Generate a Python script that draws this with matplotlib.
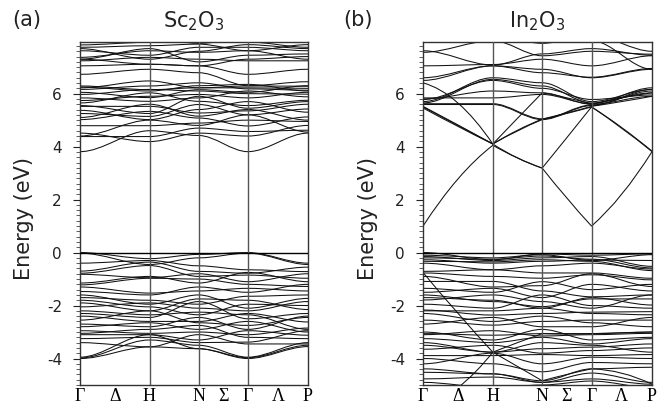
import numpy as np
import matplotlib
matplotlib.use("Agg")
import matplotlib.pyplot as plt
from matplotlib.path import Path
from matplotlib.patches import PathPatch
from matplotlib.ticker import MultipleLocator

# ---------------- data ----------------
kpoint_labels = ["Γ", "Δ", "H", "N", "Σ", "Γ", "Λ", "P"]
kpath_nodes = [0.0, 1.0, 1.7071, 2.4142, 3.2802]  # Γ, H, N, Γ, P

panel_letters = ["(a)", "(b)"]
panel_titles = ["Sc$_2$O$_3$", "In$_2$O$_3$"]

# Sc2O3 conduction bands: energies (eV) at Γ, H, N, Γ, P
sc_cb = [
    [3.81, 4.60, 4.42, 3.81, 4.51],
    [4.38, 4.38, 4.70, 4.57, 4.62],
    [4.51, 4.19, 4.51, 4.40, 4.80],
    [4.40, 5.00, 4.80, 5.20, 4.55],
    [4.79, 4.79, 4.89, 5.00, 4.95],
    [5.02, 5.33, 5.08, 4.78, 5.12],
    [5.10, 5.60, 5.15, 5.40, 5.00],
    [5.25, 5.14, 5.59, 5.20, 5.42],
    [5.37, 5.02, 5.40, 5.70, 5.30],
    [5.52, 5.52, 5.27, 5.35, 5.60],
    [5.55, 5.25, 5.90, 5.45, 5.70],
    [5.65, 6.03, 5.71, 5.55, 5.75],
    [5.74, 5.90, 5.97, 5.84, 6.05],
    [5.84, 5.71, 5.84, 6.10, 5.88],
    [5.97, 6.16, 6.10, 6.00, 5.98],
    [6.05, 5.85, 6.15, 6.05, 6.30],
    [6.16, 6.29, 6.41, 6.18, 6.13],
    [6.22, 6.48, 6.22, 6.22, 6.20],
    [6.25, 6.10, 6.30, 6.35, 6.10],
    [6.29, 6.15, 6.22, 6.29, 6.28],
    [6.73, 6.92, 6.79, 6.30, 6.45],
    [7.05, 7.11, 7.05, 6.73, 6.92],
    [7.24, 7.37, 7.30, 7.24, 7.24],
    [7.30, 7.11, 7.05, 7.30, 7.40],
    [7.30, 7.70, 7.20, 7.45, 7.50],
    [7.37, 7.62, 7.56, 7.62, 7.30],
    [7.62, 7.45, 7.75, 7.75, 7.62],
    [7.70, 7.30, 7.60, 7.85, 7.70],
    [7.75, 7.81, 7.87, 7.62, 7.85],
    [7.84, 7.94, 8.00, 7.95, 7.75],
    [7.97, 8.10, 7.90, 8.05, 8.00],
]
# Sc2O3 valence bands: energies (eV) at Γ, H, N, Γ, P
sc_vb = [
    [0.00, -0.23, -0.07, 0.00, -0.40],
    [-0.02, -0.45, -0.20, -0.02, -0.45],
    [-0.40, -0.30, -0.50, -0.65, -0.72],
    [-0.70, -0.36, -0.71, -0.78, -0.55],
    [-0.78, -0.49, -0.90, -0.85, -0.97],
    [-0.82, -0.95, -0.80, -1.10, -0.80],
    [-1.15, -0.90, -1.15, -0.75, -1.10],
    [-1.22, -0.97, -1.00, -1.20, -1.28],
    [-1.30, -1.53, -1.45, -1.35, -1.45],
    [-1.47, -1.60, -1.30, -1.50, -1.20],
    [-1.60, -1.95, -1.60, -2.10, -1.73],
    [-1.70, -1.80, -1.95, -1.65, -1.60],
    [-1.80, -2.05, -2.35, -1.95, -2.00],
    [-1.90, -2.20, -1.75, -1.80, -2.15],
    [-2.05, -1.90, -2.10, -2.20, -1.85],
    [-2.20, -2.35, -2.25, -2.35, -2.90],
    [-2.30, -2.45, -1.85, -2.50, -2.30],
    [-2.40, -2.60, -2.60, -2.30, -2.62],
    [-2.55, -2.20, -2.65, -2.75, -2.45],
    [-2.70, -2.80, -2.45, -2.90, -2.40],
    [-2.80, -2.65, -2.90, -2.60, -3.00],
    [-2.95, -3.05, -3.00, -3.10, -2.85],
    [-3.05, -2.90, -2.75, -3.20, -3.25],
    [-3.10, -3.10, -3.30, -2.95, -3.12],
    [-3.25, -3.20, -3.40, -3.38, -2.95],
    [-3.40, -3.56, -3.10, -3.45, -3.45],
    [-3.95, -3.10, -3.63, -3.97, -3.50],
    [-4.00, -3.56, -3.63, -4.00, -3.55],
    [-3.98, -3.30, -3.50, -3.95, -3.40],
]

# In2O3 strongly dispersive bands: Γ, Δ, H, (H-N), N, Σ, Γ, Λ, P
in_disp = [
    [1.00, 2.78, 4.05, 3.57, 3.19, 2.05, 1.00, 2.20, 3.81],
    [5.46, 4.76, 4.10, 3.57, 3.19, 4.34, 5.50, 4.70, 3.81],
    [5.50, 4.80, 4.10, 4.60, 5.02, 5.25, 5.50, 4.72, 3.83],
    [5.52, 4.82, 4.10, 4.62, 5.04, 5.27, 5.52, 5.70, 5.90],
    [6.41, 5.65, 4.10, 5.07, 6.03, 5.85, 5.60, 5.85, 6.03],
    [-0.75, -2.30, -3.76, -4.30, -4.84, -4.60, -4.39, -4.55, -4.97],
    [-5.80, -5.10, -3.76, -3.40, -3.06, -3.08, -3.06, -3.03, -3.00],
]
# In2O3 conduction bands: Γ, H, N, Γ, P
in_cb = [
    [5.59, 5.59, 5.02, 5.55, 6.16],
    [5.62, 5.62, 5.05, 5.57, 6.10],
    [5.84, 5.84, 5.97, 5.62, 6.22],
    [5.65, 6.54, 6.29, 5.65, 6.03],
    [5.70, 6.60, 6.41, 5.70, 6.16],
    [5.78, 6.50, 6.20, 5.78, 5.95],
    [5.80, 6.10, 6.03, 5.60, 5.90],
    [6.50, 7.05, 6.92, 6.60, 6.92],
    [6.60, 7.05, 6.79, 6.62, 6.95],
    [7.05, 7.10, 7.30, 7.05, 7.43],
    [7.56, 8.00, 7.43, 7.60, 7.49],
    [7.62, 7.08, 7.50, 7.70, 7.45],
    [8.00, 8.05, 7.94, 8.00, 6.92],
    [8.10, 8.20, 7.90, 8.20, 7.60],
]
# In2O3 valence bands: Γ, H, N, Γ, P
in_vb = [
    [0.00, -0.27, -0.05, -0.10, -0.05],
    [-0.10, -0.20, -0.08, -0.30, -0.08],
    [-0.15, -0.30, -0.20, -0.15, -0.52],
    [-0.20, -0.25, -0.13, -0.25, -0.58],
    [-0.27, -0.40, -0.33, -0.28, -0.30],
    [-0.33, -0.35, -0.27, -0.33, -0.68],
    [-0.40, -0.65, -0.50, -0.40, -0.62],
    [-0.71, -0.65, -0.77, -0.77, -0.97],
    [-0.77, -0.90, -0.97, -0.84, -1.03],
    [-0.90, -1.30, -1.25, -0.80, -1.28],
    [-1.09, -1.09, -1.45, -1.67, -1.60],
    [-1.35, -1.50, -1.10, -1.40, -1.20],
    [-1.50, -1.35, -1.70, -1.20, -1.45],
    [-1.60, -1.85, -2.04, -1.75, -1.75],
    [-1.70, -1.80, -2.10, -1.70, -1.98],
    [-1.79, -1.60, -1.85, -2.10, -1.60],
    [-1.95, -2.10, -1.60, -2.00, -2.10],
    [-2.17, -2.36, -2.30, -2.25, -2.23],
    [-2.20, -2.20, -2.10, -2.30, -2.35],
    [-2.30, -2.60, -2.40, -2.65, -2.80],
    [-2.55, -2.74, -2.60, -2.55, -2.55],
    [-2.70, -2.45, -2.80, -2.80, -2.45],
    [-3.06, -3.12, -3.06, -3.06, -3.00],
    [-3.10, -2.95, -3.15, -3.10, -3.05],
    [-3.00, -3.30, -2.90, -3.30, -3.20],
    [-3.25, -3.40, -3.20, -3.45, -3.25],
    [-3.50, -3.76, -3.63, -3.57, -3.45],
    [-3.40, -3.76, -3.40, -3.50, -3.76],
    [-3.65, -3.50, -3.80, -3.70, -3.60],
    [-3.89, -3.89, -3.85, -3.89, -3.85],
    [-4.20, -3.80, -4.20, -3.95, -4.00],
    [-4.00, -4.20, -4.50, -4.15, -4.20],
    [-4.39, -4.58, -4.84, -4.39, -4.33],
    [-4.52, -4.58, -4.90, -4.55, -4.90],
    [-4.77, -4.70, -4.90, -4.77, -4.97],
    [-4.90, -5.10, -5.00, -4.85, -5.10],
]

ymin, ymax = -5.0, 7.95

# ---------------- drawing helpers ----------------
def smooth_band_path(xn, e):
    """cubic Bezier segments with flat tangents at high-symmetry points"""
    verts = [(xn[0], e[0])]
    codes = [Path.MOVETO]
    for i in range(len(xn) - 1):
        x0, x1 = xn[i], xn[i + 1]
        d = x1 - x0
        verts += [(x0 + d / 3, e[i]), (x1 - d / 3, e[i + 1]), (x1, e[i + 1])]
        codes += [Path.CURVE4] * 3
    return Path(verts, codes)


def mid_band_path(xn, e9):
    """quadratic Bezier segments passing through the given mid-segment value"""
    verts = [(xn[0], e9[0])]
    codes = [Path.MOVETO]
    for i in range(len(xn) - 1):
        x0, x1 = xn[i], xn[i + 1]
        y0, ym, y1 = e9[2 * i], e9[2 * i + 1], e9[2 * i + 2]
        c = 2 * ym - (y0 + y1) / 2
        verts += [((x0 + x1) / 2, c), (x1, y1)]
        codes += [Path.CURVE3] * 2
    return Path(verts, codes)


LW = 0.75
fig = plt.figure(figsize=(6.69, 4.08), dpi=100)
axes = [fig.add_axes([80 / 669, 23 / 408, 228 / 669, 343 / 408]),
        fig.add_axes([423 / 669, 23 / 408, 229 / 669, 343 / 408])]

band_sets = [(sc_cb + sc_vb, []), (in_cb + in_vb, in_disp)]

xn = kpath_nodes
xt = [xn[0], (xn[0] + xn[1]) / 2, xn[1], xn[2], (xn[2] + xn[3]) / 2,
      xn[3], (xn[3] + xn[4]) / 2, xn[4]]

for ax, (smooth, disp), title, lx in zip(axes, band_sets, panel_titles,
                                         [24, 368.5]):
    for b in smooth:
        ax.add_patch(PathPatch(smooth_band_path(xn, b), fill=False,
                               lw=LW, ec="#111111"))
    for b in disp:
        ax.add_patch(PathPatch(mid_band_path(xn, b), fill=False,
                               lw=LW, ec="#111111"))
    for xv in xn[1:-1]:
        ax.axvline(xv, color="#555555", lw=1.0, zorder=3)
    ax.axhline(0.0, color="black", lw=1.0, zorder=3)
    ax.set_xlim(xn[0], xn[-1])
    ax.set_ylim(ymin, ymax)
    ax.set_xticks(xt)
    ax.set_xticklabels(kpoint_labels, family="Liberation Serif", fontsize=13)
    ax.tick_params(axis="x", length=0, pad=2)
    ax.set_yticks([-4, -2, 0, 2, 4, 6])
    ax.set_yticklabels(["-4", "-2", "0", "2", "4", "6"])
    ax.yaxis.set_minor_locator(MultipleLocator(0.2))
    ax.tick_params(axis="y", which="major", direction="out", length=5,
                   width=0.8, labelsize=11, pad=8, colors="#222222")
    ax.tick_params(axis="y", which="minor", direction="out", length=3,
                   width=0.6, colors="#444444")
    for s in ax.spines.values():
        s.set_linewidth(1.0)
        s.set_color("#333333")
    cx = (ax.get_position().x0 + ax.get_position().x1) / 2
    fig.text(cx, 1 - 21 / 408, title, ha="center", va="center", fontsize=15,
             color="#222222")
    fig.text(lx / 669, 1 - 218 / 408, "Energy (eV)", rotation=90,
             ha="center", va="center", fontsize=15, color="#222222")

fig.text(27 / 669, 1 - 20 / 408, panel_letters[0], ha="center", va="center",
         fontsize=15, color="#222222")
fig.text(358 / 669, 1 - 20 / 408, panel_letters[1], ha="center", va="center",
         fontsize=15, color="#222222")

fig.savefig("out.png", dpi=100)
